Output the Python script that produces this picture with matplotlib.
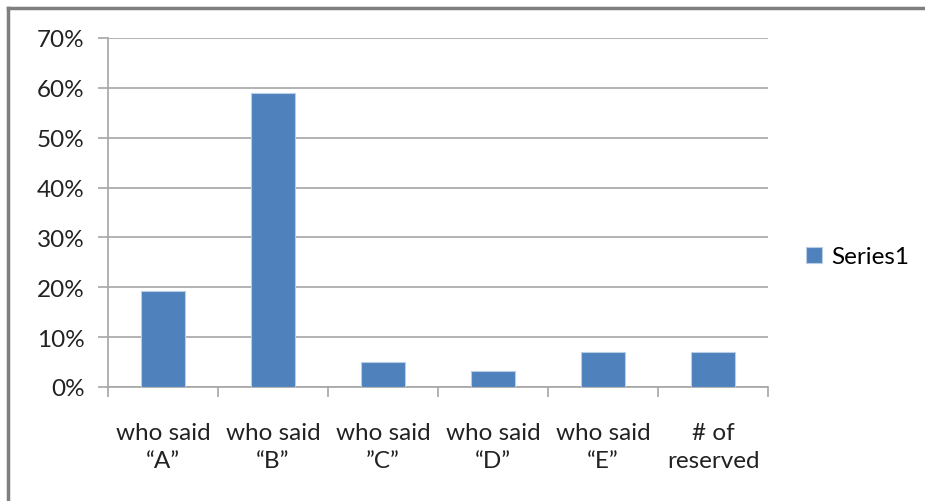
import numpy as np
import matplotlib.pyplot as plt
from matplotlib.ticker import PercentFormatter

# data
kategorier = ["who said\n\u201cA\u201d", "who said\n\u201cB\u201d", "who said\n\u201dC\u201d",
              "who said\n\u201cD\u201d", "who said\n\u201cE\u201d", "# of\nreserved"]
verdier = [19.3, 59, 5, 3.2, 7, 7]
yticks = [0, 10, 20, 30, 40, 50, 60, 70]

plt.rcParams['font.family'] = ['Lato', 'DejaVu Sans']

fig = plt.figure(figsize=(9.25, 5.02), dpi=100)
ax = fig.add_axes([108/925, 1-388/502, 660/925, 349/502])

x = np.arange(len(kategorier))
ax.bar(x, verdier, width=0.4, color="#4F81BD", edgecolor="#B9CDE5", linewidth=0.8,
       label="Series1", zorder=3)

ax.set_xlim(-0.5, len(kategorier)-0.5)
ax.set_ylim(0, 70)
ax.set_yticks(yticks)
ax.yaxis.set_major_formatter(PercentFormatter(decimals=0))
ax.grid(axis="y", color="#A6A6A6", linewidth=1.2, zorder=0)

# kategori-etiketter i midten, tick-streker mellom
ax.set_xticks(x)
ax.set_xticklabels(kategorier, fontsize=17.5, color="#222222", linespacing=1.4)
ax.tick_params(axis="x", length=0, pad=25)
ax.set_xticks(np.arange(-0.5, len(kategorier)), minor=True)
ax.tick_params(axis="x", which="minor", length=7, width=1.2, color="#A6A6A6")
ax.tick_params(axis="y", length=7, width=1.2, color="#A6A6A6", labelsize=17.5,
               labelcolor="#222222", pad=10)

for s in ["top", "right"]:
    ax.spines[s].set_visible(False)
for s in ["left", "bottom"]:
    ax.spines[s].set_color("#A6A6A6")
    ax.spines[s].set_linewidth(1.2)

fig.legend(loc="center left", bbox_to_anchor=(806/925, 1-258/502), frameon=False,
           fontsize=17.5, handlelength=0.65, handleheight=0.65, handletextpad=0.4,
           borderaxespad=0, borderpad=0)

# ramme rundt diagrammet
fig.add_artist(plt.Line2D([8/925, 8/925], [0, 1-9/502], color="#7F7F7F", linewidth=2.5))
fig.add_artist(plt.Line2D([8/925, 1], [1-9/502, 1-9/502], color="#7F7F7F", linewidth=2.5))

fig.savefig("out.png", dpi=100)
